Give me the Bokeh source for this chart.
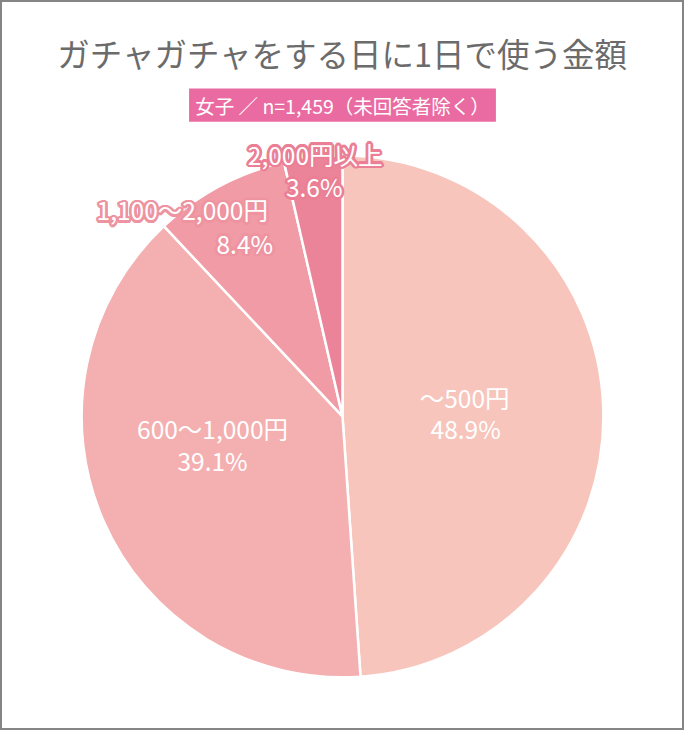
import numpy as np
from bokeh.plotting import figure
from bokeh.models import Range1d, ColumnDataSource, Label
from bokeh.core.properties import value
from bokeh.embed import file_html
from bokeh.resources import INLINE

# ---- data ----
title_text = "ガチャガチャをする日に1日で使う金額"
subtitle_text = "女子 ／ n=1,459（未回答者除く）"
categories = ["～500円", "600～1,000円", "1,100～2,000円", "2,000円以上"]
percents = [48.9, 39.1, 8.4, 3.6]
colors = ["#F7C5BC", "#F4AFB1", "#F09BA6", "#EC8499"]
halo_colors = [None, None, "#EE93A0", "#EA7F95"]

# ---- layout (reference pixel space 700x746) ----
W, H = 700, 746
FONT = "Noto Sans CJK JP"
cx, cy, R = 350, 425, 267
# label offsets (px from pie center) for category line and percent line
cat_pos = [(125, -19), (-133, 12), (-164, -211), (-28, -268)]
pct_pos = [(126, 12), (-133, 45), (-100, -177), (-29, -235)]
LABEL_SIZE = "24.5px"

p = figure(width=684, height=730, x_range=Range1d(0, W), y_range=Range1d(0, H),
           output_backend="svg", toolbar_location=None, min_border=0)
p.axis.visible = False
p.grid.visible = False
p.outline_line_color = "#858585"
p.outline_line_width = 3
p.background_fill_color = "white"
p.border_fill_color = "white"

def Y(y):
    return H - y

vals = np.array(percents)
cum = np.cumsum(vals) / vals.sum() * 2 * np.pi
prev = np.concatenate([[0], cum[:-1]])
src = ColumnDataSource(dict(
    start=np.pi / 2 - prev, end=np.pi / 2 - cum, color=colors, cat=categories))
p.wedge(x=cx, y=Y(cy), radius=R, start_angle="start", end_angle="end",
        direction="clock", fill_color="color", line_color="white",
        line_width=2.5, source=src)

# title
p.add_layout(Label(x=W / 2, y=Y(53), text=title_text, text_align="center",
                   text_baseline="middle", text_font=FONT, text_font_size="32.5px",
                   text_color="#6B6B6B"))
# subtitle box
p.quad(left=193, right=507, bottom=Y(124), top=Y(90), fill_color="#E96BA1",
       line_color=None)
p.add_layout(Label(x=W / 2, y=Y(107), text=subtitle_text, text_align="center",
                   text_baseline="middle", text_font=FONT, text_font_size="19.5px",
                   text_color="white"))

lab = dict(x=[], y=[], t=[])
halo = dict(x=[], y=[], t=[], c=[])
for i, c in enumerate(categories):
    for (dx, dy), t in ((cat_pos[i], c), (pct_pos[i], f"{percents[i]}%")):
        lab["x"].append(cx + dx)
        lab["y"].append(Y(cy + dy))
        lab["t"].append(t)
        if halo_colors[i]:
            halo["x"].append(cx + dx)
            halo["y"].append(Y(cy + dy))
            halo["t"].append(t)
            halo["c"].append(halo_colors[i])

hsrc = ColumnDataSource(halo)
for a in np.linspace(0, 2 * np.pi, 16, endpoint=False):
    p.text(x="x", y="y", text="t", source=hsrc, text_align="center",
           text_baseline="middle", text_font=value(FONT),
           text_font_size=LABEL_SIZE, text_color="c",
           x_offset=2.6 * np.cos(a), y_offset=2.6 * np.sin(a))

lsrc = ColumnDataSource(lab)
p.text(x="x", y="y", text="t", source=lsrc, text_align="center",
       text_baseline="middle", text_font=value(FONT), text_font_size=LABEL_SIZE,
       text_color="white")

open("out.html", "w").write(file_html(p, INLINE))
